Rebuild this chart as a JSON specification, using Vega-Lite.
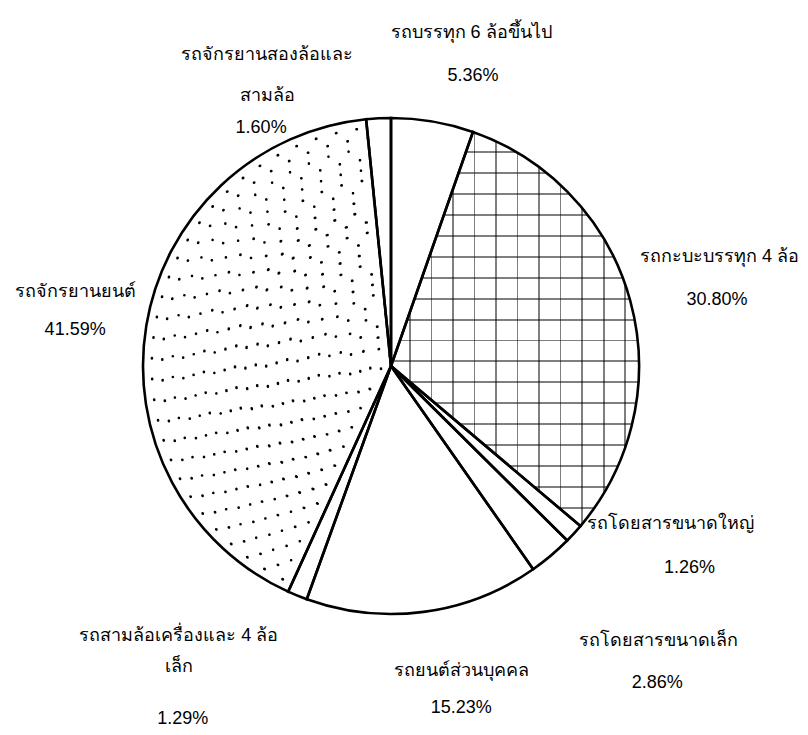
{
  "$schema": "https://vega.github.io/schema/vega-lite/v6.json",
  "autosize": {"type": "none"},
  "width": 782,
  "height": 732,
  "padding": {"left": 0, "top": 0, "right": 26, "bottom": 3},
  "background": "white",
  "config": {"view": {"stroke": null}, "text": {"font": "Liberation Sans", "fontSize": 18, "fill": "#000"}},
  "data": {"values": [
    {"key": "truck", "name": "รถบรรทุก 6 ล้อขึ้นไป", "pct": "5.36%", "value": 5.36},
    {"key": "pickup", "name": "รถกะบะบรรทุก 4 ล้อ", "pct": "30.80%", "value": 30.80},
    {"key": "bigbus", "name": "รถโดยสารขนาดใหญ่", "pct": "1.26%", "value": 1.26},
    {"key": "smallbus", "name": "รถโดยสารขนาดเล็ก", "pct": "2.86%", "value": 2.86},
    {"key": "car", "name": "รถยนต์ส่วนบุคคล", "pct": "15.23%", "value": 15.23},
    {"key": "tri", "name": "รถสามล้อเครื่องและ 4 ล้อ\nเล็ก", "pct": "1.29%", "value": 1.29},
    {"key": "moto", "name": "รถจักรยานยนต์", "pct": "41.59%", "value": 41.59},
    {"key": "bike", "name": "รถจักรยานสองล้อและ\nสามล้อ", "pct": "1.60%", "value": 1.60}
  ]},
  "transform": [{"stack": "value", "groupby": [], "as": ["v0", "v1"]}],
  "encoding": {
    "theta": {"field": "v0", "type": "quantitative", "stack": null, "scale": {"domain": [0, 99.99], "nice": false, "zero": false}}
  },
  "layer": [
    {
      "mark": {"type": "arc", "radius": 248, "fill": "white", "stroke": null},
      "encoding": {"theta2": {"field": "v1"}}
    },
    {
      "transform": [{"filter": "datum.key === 'pickup'"}],
      "mark": {"type": "arc", "radius": 248, "stroke": null, "fill": {"gradient": "linear", "x1": 0, "y1": 0, "x2": 1, "y2": 0, "stops": [
        {"offset": 0, "color": "rgba(0,0,0,0)"},
        {"offset": 0.0726, "color": "rgba(0,0,0,0)"}, {"offset": 0.0726, "color": "rgba(0,0,0,0.5)"}, {"offset": 0.0806, "color": "rgba(0,0,0,0.5)"}, {"offset": 0.0806, "color": "rgba(0,0,0,0)"},
        {"offset": 0.1593, "color": "rgba(0,0,0,0)"}, {"offset": 0.1593, "color": "rgba(0,0,0,0.5)"}, {"offset": 0.1673, "color": "rgba(0,0,0,0.5)"}, {"offset": 0.1673, "color": "rgba(0,0,0,0)"},
        {"offset": 0.246, "color": "rgba(0,0,0,0)"}, {"offset": 0.246, "color": "rgba(0,0,0,0.5)"}, {"offset": 0.254, "color": "rgba(0,0,0,0.5)"}, {"offset": 0.254, "color": "rgba(0,0,0,0)"},
        {"offset": 0.3327, "color": "rgba(0,0,0,0)"}, {"offset": 0.3327, "color": "rgba(0,0,0,0.5)"}, {"offset": 0.3407, "color": "rgba(0,0,0,0.5)"}, {"offset": 0.3407, "color": "rgba(0,0,0,0)"},
        {"offset": 0.4194, "color": "rgba(0,0,0,0)"}, {"offset": 0.4194, "color": "rgba(0,0,0,0.5)"}, {"offset": 0.4274, "color": "rgba(0,0,0,0.5)"}, {"offset": 0.4274, "color": "rgba(0,0,0,0)"},
        {"offset": 0.5061, "color": "rgba(0,0,0,0)"}, {"offset": 0.5061, "color": "rgba(0,0,0,0.5)"}, {"offset": 0.5141, "color": "rgba(0,0,0,0.5)"}, {"offset": 0.5141, "color": "rgba(0,0,0,0)"},
        {"offset": 0.5928, "color": "rgba(0,0,0,0)"}, {"offset": 0.5928, "color": "rgba(0,0,0,0.5)"}, {"offset": 0.6008, "color": "rgba(0,0,0,0.5)"}, {"offset": 0.6008, "color": "rgba(0,0,0,0)"},
        {"offset": 0.6795, "color": "rgba(0,0,0,0)"}, {"offset": 0.6795, "color": "rgba(0,0,0,0.5)"}, {"offset": 0.6875, "color": "rgba(0,0,0,0.5)"}, {"offset": 0.6875, "color": "rgba(0,0,0,0)"},
        {"offset": 0.7662, "color": "rgba(0,0,0,0)"}, {"offset": 0.7662, "color": "rgba(0,0,0,0.5)"}, {"offset": 0.7742, "color": "rgba(0,0,0,0.5)"}, {"offset": 0.7742, "color": "rgba(0,0,0,0)"},
        {"offset": 0.8529, "color": "rgba(0,0,0,0)"}, {"offset": 0.8529, "color": "rgba(0,0,0,0.5)"}, {"offset": 0.8609, "color": "rgba(0,0,0,0.5)"}, {"offset": 0.8609, "color": "rgba(0,0,0,0)"},
        {"offset": 0.9395, "color": "rgba(0,0,0,0)"}, {"offset": 0.9395, "color": "rgba(0,0,0,0.5)"}, {"offset": 0.9475, "color": "rgba(0,0,0,0.5)"}, {"offset": 0.9475, "color": "rgba(0,0,0,0)"},
        {"offset": 1, "color": "rgba(0,0,0,0)"}
      ]}},
      "encoding": {"theta2": {"field": "v1"}}
    },
    {
      "transform": [{"filter": "datum.key === 'pickup'"}],
      "mark": {"type": "arc", "radius": 248, "stroke": null, "fill": {"gradient": "linear", "x1": 0, "y1": 0, "x2": 0, "y2": 1, "stops": [
        {"offset": 0, "color": "rgba(0,0,0,0)"},
        {"offset": 0.0492, "color": "rgba(0,0,0,0)"}, {"offset": 0.0492, "color": "rgba(0,0,0,0.5)"}, {"offset": 0.0542, "color": "rgba(0,0,0,0.5)"}, {"offset": 0.0542, "color": "rgba(0,0,0,0)"},
        {"offset": 0.1023, "color": "rgba(0,0,0,0)"}, {"offset": 0.1023, "color": "rgba(0,0,0,0.5)"}, {"offset": 0.1073, "color": "rgba(0,0,0,0.5)"}, {"offset": 0.1073, "color": "rgba(0,0,0,0)"},
        {"offset": 0.1553, "color": "rgba(0,0,0,0)"}, {"offset": 0.1553, "color": "rgba(0,0,0,0.5)"}, {"offset": 0.1603, "color": "rgba(0,0,0,0.5)"}, {"offset": 0.1603, "color": "rgba(0,0,0,0)"},
        {"offset": 0.2084, "color": "rgba(0,0,0,0)"}, {"offset": 0.2084, "color": "rgba(0,0,0,0.5)"}, {"offset": 0.2134, "color": "rgba(0,0,0,0.5)"}, {"offset": 0.2134, "color": "rgba(0,0,0,0)"},
        {"offset": 0.2614, "color": "rgba(0,0,0,0)"}, {"offset": 0.2614, "color": "rgba(0,0,0,0.5)"}, {"offset": 0.2664, "color": "rgba(0,0,0,0.5)"}, {"offset": 0.2664, "color": "rgba(0,0,0,0)"},
        {"offset": 0.3145, "color": "rgba(0,0,0,0)"}, {"offset": 0.3145, "color": "rgba(0,0,0,0.5)"}, {"offset": 0.3195, "color": "rgba(0,0,0,0.5)"}, {"offset": 0.3195, "color": "rgba(0,0,0,0)"},
        {"offset": 0.3675, "color": "rgba(0,0,0,0)"}, {"offset": 0.3675, "color": "rgba(0,0,0,0.5)"}, {"offset": 0.3725, "color": "rgba(0,0,0,0.5)"}, {"offset": 0.3725, "color": "rgba(0,0,0,0)"},
        {"offset": 0.4206, "color": "rgba(0,0,0,0)"}, {"offset": 0.4206, "color": "rgba(0,0,0,0.5)"}, {"offset": 0.4256, "color": "rgba(0,0,0,0.5)"}, {"offset": 0.4256, "color": "rgba(0,0,0,0)"},
        {"offset": 0.4736, "color": "rgba(0,0,0,0)"}, {"offset": 0.4736, "color": "rgba(0,0,0,0.5)"}, {"offset": 0.4786, "color": "rgba(0,0,0,0.5)"}, {"offset": 0.4786, "color": "rgba(0,0,0,0)"},
        {"offset": 0.5267, "color": "rgba(0,0,0,0)"}, {"offset": 0.5267, "color": "rgba(0,0,0,0.5)"}, {"offset": 0.5317, "color": "rgba(0,0,0,0.5)"}, {"offset": 0.5317, "color": "rgba(0,0,0,0)"},
        {"offset": 0.5797, "color": "rgba(0,0,0,0)"}, {"offset": 0.5797, "color": "rgba(0,0,0,0.5)"}, {"offset": 0.5847, "color": "rgba(0,0,0,0.5)"}, {"offset": 0.5847, "color": "rgba(0,0,0,0)"},
        {"offset": 0.6328, "color": "rgba(0,0,0,0)"}, {"offset": 0.6328, "color": "rgba(0,0,0,0.5)"}, {"offset": 0.6378, "color": "rgba(0,0,0,0.5)"}, {"offset": 0.6378, "color": "rgba(0,0,0,0)"},
        {"offset": 0.6858, "color": "rgba(0,0,0,0)"}, {"offset": 0.6858, "color": "rgba(0,0,0,0.5)"}, {"offset": 0.6908, "color": "rgba(0,0,0,0.5)"}, {"offset": 0.6908, "color": "rgba(0,0,0,0)"},
        {"offset": 0.7389, "color": "rgba(0,0,0,0)"}, {"offset": 0.7389, "color": "rgba(0,0,0,0.5)"}, {"offset": 0.7439, "color": "rgba(0,0,0,0.5)"}, {"offset": 0.7439, "color": "rgba(0,0,0,0)"},
        {"offset": 0.7919, "color": "rgba(0,0,0,0)"}, {"offset": 0.7919, "color": "rgba(0,0,0,0.5)"}, {"offset": 0.7969, "color": "rgba(0,0,0,0.5)"}, {"offset": 0.7969, "color": "rgba(0,0,0,0)"},
        {"offset": 0.845, "color": "rgba(0,0,0,0)"}, {"offset": 0.845, "color": "rgba(0,0,0,0.5)"}, {"offset": 0.85, "color": "rgba(0,0,0,0.5)"}, {"offset": 0.85, "color": "rgba(0,0,0,0)"},
        {"offset": 0.898, "color": "rgba(0,0,0,0)"}, {"offset": 0.898, "color": "rgba(0,0,0,0.5)"}, {"offset": 0.903, "color": "rgba(0,0,0,0.5)"}, {"offset": 0.903, "color": "rgba(0,0,0,0)"},
        {"offset": 0.951, "color": "rgba(0,0,0,0)"}, {"offset": 0.951, "color": "rgba(0,0,0,0.5)"}, {"offset": 0.956, "color": "rgba(0,0,0,0.5)"}, {"offset": 0.956, "color": "rgba(0,0,0,0)"},
        {"offset": 1, "color": "rgba(0,0,0,0)"}
      ]}},
      "encoding": {"theta2": {"field": "v1"}}
    },
    {"transform": [{"filter": "datum.key === 'moto'"}], "mark": {"type": "arc", "radius": 10.4, "radius2": 10.4, "fill": null, "stroke": "black", "strokeWidth": 2.6, "strokeCap": "round", "strokeDash": [0, 18.12], "strokeDashOffset": 9.06}, "encoding": {"theta2": {"field": "v1"}}},
    {"transform": [{"filter": "datum.key === 'moto'"}], "mark": {"type": "arc", "radius": 20.8, "radius2": 20.8, "fill": null, "stroke": "black", "strokeWidth": 2.6, "strokeCap": "round", "strokeDash": [0, 21.74], "strokeDashOffset": 0}, "encoding": {"theta2": {"field": "v1"}}},
    {"transform": [{"filter": "datum.key === 'moto'"}], "mark": {"type": "arc", "radius": 31.2, "radius2": 31.2, "fill": null, "stroke": "black", "strokeWidth": 2.6, "strokeCap": "round", "strokeDash": [0, 20.38], "strokeDashOffset": 10.19}, "encoding": {"theta2": {"field": "v1"}}},
    {"transform": [{"filter": "datum.key === 'moto'"}], "mark": {"type": "arc", "radius": 41.6, "radius2": 41.6, "fill": null, "stroke": "black", "strokeWidth": 2.6, "strokeCap": "round", "strokeDash": [0, 19.77], "strokeDashOffset": 0}, "encoding": {"theta2": {"field": "v1"}}},
    {"transform": [{"filter": "datum.key === 'moto'"}], "mark": {"type": "arc", "radius": 52, "radius2": 52, "fill": null, "stroke": "black", "strokeWidth": 2.6, "strokeCap": "round", "strokeDash": [0, 20.91], "strokeDashOffset": 10.45}, "encoding": {"theta2": {"field": "v1"}}},
    {"transform": [{"filter": "datum.key === 'moto'"}], "mark": {"type": "arc", "radius": 62.4, "radius2": 62.4, "fill": null, "stroke": "black", "strokeWidth": 2.6, "strokeCap": "round", "strokeDash": [0, 20.38], "strokeDashOffset": 0}, "encoding": {"theta2": {"field": "v1"}}},
    {"transform": [{"filter": "datum.key === 'moto'"}], "mark": {"type": "arc", "radius": 72.8, "radius2": 72.8, "fill": null, "stroke": "black", "strokeWidth": 2.6, "strokeCap": "round", "strokeDash": [0, 21.14], "strokeDashOffset": 10.57}, "encoding": {"theta2": {"field": "v1"}}},
    {"transform": [{"filter": "datum.key === 'moto'"}], "mark": {"type": "arc", "radius": 83.2, "radius2": 83.2, "fill": null, "stroke": "black", "strokeWidth": 2.6, "strokeCap": "round", "strokeDash": [0, 20.71], "strokeDashOffset": 0}, "encoding": {"theta2": {"field": "v1"}}},
    {"transform": [{"filter": "datum.key === 'moto'"}], "mark": {"type": "arc", "radius": 93.6, "radius2": 93.6, "fill": null, "stroke": "black", "strokeWidth": 2.6, "strokeCap": "round", "strokeDash": [0, 20.38], "strokeDashOffset": 10.19}, "encoding": {"theta2": {"field": "v1"}}},
    {"transform": [{"filter": "datum.key === 'moto'"}], "mark": {"type": "arc", "radius": 104, "radius2": 104, "fill": null, "stroke": "black", "strokeWidth": 2.6, "strokeCap": "round", "strokeDash": [0, 20.91], "strokeDashOffset": 0}, "encoding": {"theta2": {"field": "v1"}}},
    {"transform": [{"filter": "datum.key === 'moto'"}], "mark": {"type": "arc", "radius": 114.4, "radius2": 114.4, "fill": null, "stroke": "black", "strokeWidth": 2.6, "strokeCap": "round", "strokeDash": [0, 20.62], "strokeDashOffset": 10.31}, "encoding": {"theta2": {"field": "v1"}}},
    {"transform": [{"filter": "datum.key === 'moto'"}], "mark": {"type": "arc", "radius": 124.8, "radius2": 124.8, "fill": null, "stroke": "black", "strokeWidth": 2.6, "strokeCap": "round", "strokeDash": [0, 20.38], "strokeDashOffset": 0}, "encoding": {"theta2": {"field": "v1"}}},
    {"transform": [{"filter": "datum.key === 'moto'"}], "mark": {"type": "arc", "radius": 135.2, "radius2": 135.2, "fill": null, "stroke": "black", "strokeWidth": 2.6, "strokeCap": "round", "strokeDash": [0, 20.78], "strokeDashOffset": 10.39}, "encoding": {"theta2": {"field": "v1"}}},
    {"transform": [{"filter": "datum.key === 'moto'"}], "mark": {"type": "arc", "radius": 145.6, "radius2": 145.6, "fill": null, "stroke": "black", "strokeWidth": 2.6, "strokeCap": "round", "strokeDash": [0, 20.57], "strokeDashOffset": 0}, "encoding": {"theta2": {"field": "v1"}}},
    {"transform": [{"filter": "datum.key === 'moto'"}], "mark": {"type": "arc", "radius": 156, "radius2": 156, "fill": null, "stroke": "black", "strokeWidth": 2.6, "strokeCap": "round", "strokeDash": [0, 20.91], "strokeDashOffset": 10.45}, "encoding": {"theta2": {"field": "v1"}}},
    {"transform": [{"filter": "datum.key === 'moto'"}], "mark": {"type": "arc", "radius": 166.4, "radius2": 166.4, "fill": null, "stroke": "black", "strokeWidth": 2.6, "strokeCap": "round", "strokeDash": [0, 20.71], "strokeDashOffset": 0}, "encoding": {"theta2": {"field": "v1"}}},
    {"transform": [{"filter": "datum.key === 'moto'"}], "mark": {"type": "arc", "radius": 176.8, "radius2": 176.8, "fill": null, "stroke": "black", "strokeWidth": 2.6, "strokeCap": "round", "strokeDash": [0, 20.53], "strokeDashOffset": 10.27}, "encoding": {"theta2": {"field": "v1"}}},
    {"transform": [{"filter": "datum.key === 'moto'"}], "mark": {"type": "arc", "radius": 187.2, "radius2": 187.2, "fill": null, "stroke": "black", "strokeWidth": 2.6, "strokeCap": "round", "strokeDash": [0, 20.82], "strokeDashOffset": 0}, "encoding": {"theta2": {"field": "v1"}}},
    {"transform": [{"filter": "datum.key === 'moto'"}], "mark": {"type": "arc", "radius": 197.6, "radius2": 197.6, "fill": null, "stroke": "black", "strokeWidth": 2.6, "strokeCap": "round", "strokeDash": [0, 20.65], "strokeDashOffset": 10.33}, "encoding": {"theta2": {"field": "v1"}}},
    {"transform": [{"filter": "datum.key === 'moto'"}], "mark": {"type": "arc", "radius": 208, "radius2": 208, "fill": null, "stroke": "black", "strokeWidth": 2.6, "strokeCap": "round", "strokeDash": [0, 20.51], "strokeDashOffset": 0}, "encoding": {"theta2": {"field": "v1"}}},
    {"transform": [{"filter": "datum.key === 'moto'"}], "mark": {"type": "arc", "radius": 218.4, "radius2": 218.4, "fill": null, "stroke": "black", "strokeWidth": 2.6, "strokeCap": "round", "strokeDash": [0, 20.75], "strokeDashOffset": 10.38}, "encoding": {"theta2": {"field": "v1"}}},
    {"transform": [{"filter": "datum.key === 'moto'"}], "mark": {"type": "arc", "radius": 228.8, "radius2": 228.8, "fill": null, "stroke": "black", "strokeWidth": 2.6, "strokeCap": "round", "strokeDash": [0, 20.62], "strokeDashOffset": 0}, "encoding": {"theta2": {"field": "v1"}}},
    {"transform": [{"filter": "datum.key === 'moto'"}], "mark": {"type": "arc", "radius": 239.2, "radius2": 239.2, "fill": null, "stroke": "black", "strokeWidth": 2.6, "strokeCap": "round", "strokeDash": [0, 20.84], "strokeDashOffset": 10.42}, "encoding": {"theta2": {"field": "v1"}}},
    {
      "mark": {"type": "arc", "radius": 248, "filled": false, "stroke": "black", "strokeWidth": 2.6},
      "encoding": {"theta2": {"field": "v1"}}
    },
    {"transform": [{"filter": "datum.key === 'truck'"}], "mark": {"type": "text", "radius": 248, "dx": 80, "dy": -85, "align": "center", "baseline": "middle"}, "encoding": {"text": {"field": "name"}}},
    {"transform": [{"filter": "datum.key === 'truck'"}], "mark": {"type": "text", "radius": 248, "dx": 82, "dy": -42, "align": "center", "baseline": "middle"}, "encoding": {"text": {"field": "pct"}}},
    {"transform": [{"filter": "datum.key === 'bike'"}], "mark": {"type": "text", "radius": 248, "dx": -99, "dy": -64, "align": "center", "baseline": "middle", "lineBreak": "\n", "lineHeight": 41}, "encoding": {"text": {"field": "name"}}},
    {"transform": [{"filter": "datum.key === 'bike'"}], "mark": {"type": "text", "radius": 248, "dx": -105, "dy": 9, "align": "center", "baseline": "middle"}, "encoding": {"text": {"field": "pct"}}},
    {"transform": [{"filter": "datum.key === 'pickup'"}], "mark": {"type": "text", "radius": 248, "dx": 167, "dy": 125, "align": "left", "baseline": "middle"}, "encoding": {"text": {"field": "name"}}},
    {"transform": [{"filter": "datum.key === 'pickup'"}], "mark": {"type": "text", "radius": 248, "dx": 244, "dy": 168, "align": "center", "baseline": "middle"}, "encoding": {"text": {"field": "pct"}}},
    {"transform": [{"filter": "datum.key === 'moto'"}], "mark": {"type": "text", "radius": 248, "dx": -213, "dy": -300, "align": "center", "baseline": "middle"}, "encoding": {"text": {"field": "name"}}},
    {"transform": [{"filter": "datum.key === 'moto'"}], "mark": {"type": "text", "radius": 248, "dx": -213, "dy": -262, "align": "center", "baseline": "middle"}, "encoding": {"text": {"field": "pct"}}},
    {"transform": [{"filter": "datum.key === 'bigbus'"}], "mark": {"type": "text", "radius": 248, "dx": 90, "dy": -2, "align": "center", "baseline": "middle"}, "encoding": {"text": {"field": "name"}}},
    {"transform": [{"filter": "datum.key === 'bigbus'"}], "mark": {"type": "text", "radius": 248, "dx": 109, "dy": 42, "align": "center", "baseline": "middle"}, "encoding": {"text": {"field": "pct"}}},
    {"transform": [{"filter": "datum.key === 'smallbus'"}], "mark": {"type": "text", "radius": 248, "dx": 91, "dy": 100, "align": "center", "baseline": "middle"}, "encoding": {"text": {"field": "name"}}},
    {"transform": [{"filter": "datum.key === 'smallbus'"}], "mark": {"type": "text", "radius": 248, "dx": 90, "dy": 142, "align": "center", "baseline": "middle"}, "encoding": {"text": {"field": "pct"}}},
    {"transform": [{"filter": "datum.key === 'car'"}], "mark": {"type": "text", "radius": 248, "dx": -72, "dy": 102, "align": "center", "baseline": "middle"}, "encoding": {"text": {"field": "name"}}},
    {"transform": [{"filter": "datum.key === 'car'"}], "mark": {"type": "text", "radius": 248, "dx": -72, "dy": 139, "align": "center", "baseline": "middle"}, "encoding": {"text": {"field": "pct"}}},
    {"transform": [{"filter": "datum.key === 'tri'"}], "mark": {"type": "text", "radius": 248, "dx": -128, "dy": 37, "align": "center", "baseline": "middle", "lineBreak": "\n", "lineHeight": 31}, "encoding": {"text": {"field": "name"}}},
    {"transform": [{"filter": "datum.key === 'tri'"}], "mark": {"type": "text", "radius": 248, "dx": -124, "dy": 120, "align": "center", "baseline": "middle"}, "encoding": {"text": {"field": "pct"}}}
  ]
}
